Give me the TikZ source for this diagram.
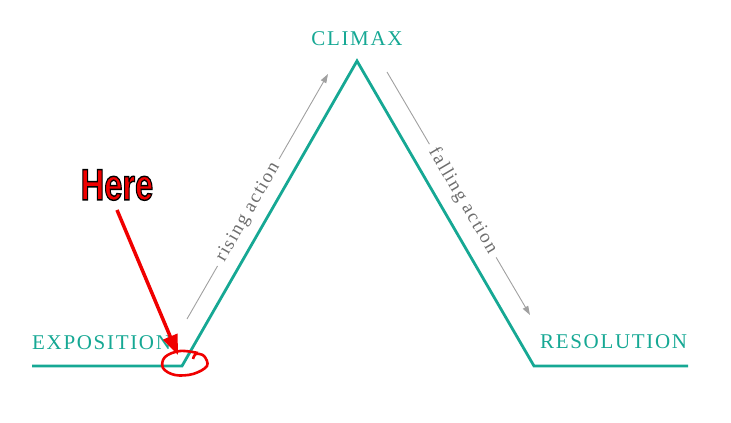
\documentclass[tikz,border=0pt]{standalone}
\usepackage{fontspec}
\setmainfont{Liberation Serif}
\newfontfamily\capsfont[LetterSpace=8]{Liberation Serif}
\newfontfamily\actfont[LetterSpace=8]{Liberation Serif}
\newfontfamily\herefont{Liberation Sans}
\usetikzlibrary{arrows.meta,calc}
\definecolor{tealline}{RGB}{22,168,148}
\definecolor{actgray}{RGB}{110,110,110}
\definecolor{arrowgray}{RGB}{160,160,160}
\definecolor{herered}{RGB}{240,0,0}
\newcommand{\outlinedtext}[1]{\special{pdf:literal direct 2 Tr 1.4 w 0 0 0 RG}#1\special{pdf:literal direct 0 Tr 0.4 w}}
\tikzset{
  plotline/.style={draw=tealline,line width=2.8pt,line join=miter},
  stagelabel/.style={text=tealline,font=\capsfont\fontsize{21}{21}\selectfont,inner sep=0pt},
  actlabel/.style={text=actgray,font=\actfont\fontsize{19}{19}\selectfont,inner sep=6pt},
  actarrow/.style={draw=arrowgray,line width=0.9pt},
  acttip/.style={-{Triangle[length=9pt,width=6pt]}},
  redarrow/.style={draw=herered,line width=3.5pt,-{Triangle[length=20pt,width=15pt]}},
  redring/.style={draw=herered,line width=2.6pt},
}
\begin{document}
\begin{tikzpicture}[x=1pt,y=1pt]
\useasboundingbox (0,0) rectangle (731,423);
% plot line
\coordinate (start) at (32,57);
\coordinate (expo) at (182,57);
\coordinate (peak) at (357,362);
\coordinate (reso) at (534,57);
\coordinate (finish) at (688,57);
\draw[plotline] (start) -- (expo) -- (peak) -- (reso) -- (finish);
% stage labels
\node[stagelabel,anchor=base west] (lexpo) at (32,73) {EXPOSITION};
\node[stagelabel,anchor=base] (lclimax) at (357,377) {CLIMAX};
\node[stagelabel,anchor=base west] (lreso) at (540,74.5) {RESOLUTION};
% rising action
\coordinate (ra1) at (187,104);
\coordinate (ra2) at (328,349);
\node[actlabel,rotate=60.1] (rtext) at ($(ra1)!0.435!(ra2)$) {rising action};
\draw[actarrow] (ra1) -- (rtext.west);
\draw[actarrow,acttip] (rtext.east) -- (ra2);
% falling action
\coordinate (fa1) at (387,351);
\coordinate (fa2) at (530,108);
\node[actlabel,rotate=-59.5] (ftext) at ($(fa1)!0.53!(fa2)$) {falling action};
\draw[actarrow] (fa1) -- (ftext.west);
\draw[actarrow,acttip] (ftext.east) -- (fa2);
% annotation
\node[inner sep=0pt,xscale=0.74,font=\herefont\bfseries\fontsize{44}{44}\selectfont,text=herered] (here) at (117,238) {\outlinedtext{Here}};
\coordinate (tail) at (117,213);
\coordinate (tip) at (178,68);
\draw[redarrow] (tail) -- (tip);
\draw[redring] plot[smooth,tension=0.6] coordinates {(198,70) (180,72) (165,66) (163,55) (175,48) (193,49) (207,57) (204,67) (196,69) (193,64)};
\end{tikzpicture}
\end{document}
